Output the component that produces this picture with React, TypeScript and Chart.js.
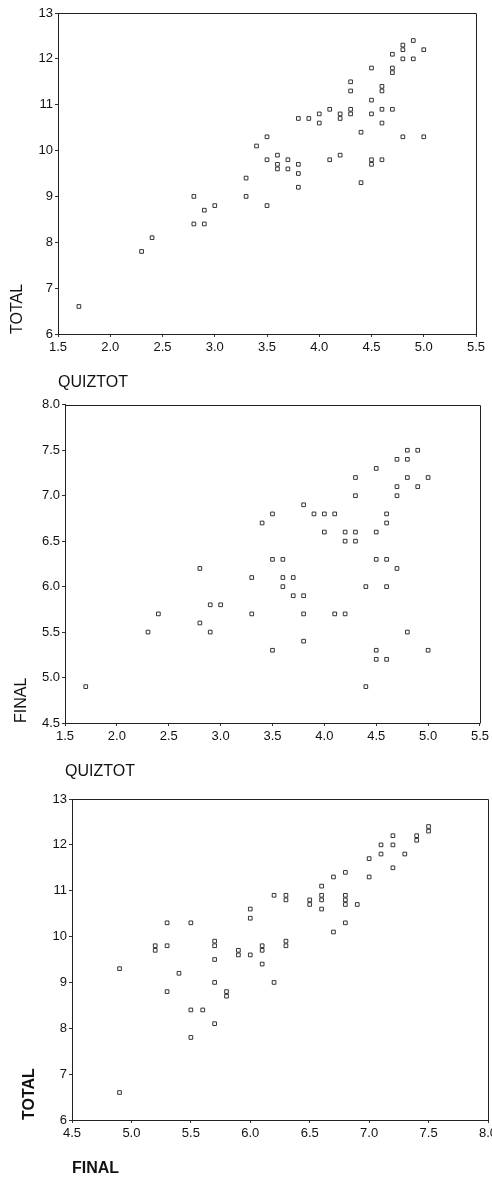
import React, { useEffect, useRef } from "react";
import { Chart, registerables } from "chart.js";

Chart.register(...registerables);

// ---- Data: panel 1 (QUIZTOT vs TOTAL)
const p1Quiztot = [1.7, 2.3, 2.4, 2.8, 2.8, 2.9, 2.9, 3.0, 3.3, 3.3, 3.4, 3.5, 3.5, 3.5, 3.6, 3.6, 3.6, 3.7, 3.7, 3.8, 3.8, 3.8, 3.8, 3.9, 4.0, 4.0, 4.1, 4.1, 4.2, 4.2, 4.2, 4.3, 4.3, 4.3, 4.3, 4.4, 4.4, 4.5, 4.5, 4.5, 4.5, 4.5, 4.6, 4.6, 4.6, 4.6, 4.6, 4.7, 4.7, 4.7, 4.7, 4.8, 4.8, 4.8, 4.8, 4.9, 4.9, 5.0, 5.0];
const p1Total = [6.6, 7.8, 8.1, 9.0, 8.4, 8.7, 8.4, 8.8, 9.0, 9.4, 10.1, 10.3, 9.8, 8.8, 9.9, 9.7, 9.6, 9.8, 9.6, 9.7, 9.5, 9.2, 10.7, 10.7, 10.8, 10.6, 10.9, 9.8, 10.8, 10.7, 9.9, 11.5, 11.3, 10.9, 10.8, 10.4, 9.3, 11.8, 11.1, 10.8, 9.8, 9.7, 11.4, 11.3, 10.9, 10.6, 9.8, 12.1, 11.8, 11.7, 10.9, 12.3, 12.2, 12.0, 10.3, 12.4, 12.0, 12.2, 10.3];

// ---- Data: panel 2 (QUIZTOT vs FINAL)
const p2Quiztot = [1.7, 2.3, 2.4, 2.8, 2.8, 2.9, 2.9, 3.0, 3.3, 3.3, 3.4, 3.5, 3.5, 3.5, 3.6, 3.6, 3.6, 3.7, 3.7, 3.8, 3.8, 3.8, 3.8, 3.9, 4.0, 4.0, 4.1, 4.1, 4.2, 4.2, 4.2, 4.3, 4.3, 4.3, 4.3, 4.4, 4.4, 4.5, 4.5, 4.5, 4.5, 4.5, 4.6, 4.6, 4.6, 4.6, 4.6, 4.7, 4.7, 4.7, 4.7, 4.8, 4.8, 4.8, 4.8, 4.9, 4.9, 5.0, 5.0];
const p2Final = [4.9, 5.5, 5.7, 6.2, 5.6, 5.8, 5.5, 5.8, 6.1, 5.7, 6.7, 6.8, 6.3, 5.3, 6.3, 6.1, 6.0, 6.1, 5.9, 6.9, 5.9, 5.7, 5.4, 6.8, 6.8, 6.6, 6.8, 5.7, 6.6, 6.5, 5.7, 7.2, 7.0, 6.6, 6.5, 6.0, 4.9, 7.3, 6.6, 6.3, 5.3, 5.2, 6.8, 6.7, 6.3, 6.0, 5.2, 7.4, 7.1, 7.0, 6.2, 7.5, 7.4, 7.2, 5.5, 7.5, 7.1, 7.2, 5.3];

// ---- Data: panel 3 (FINAL vs TOTAL)
const p3Final = [4.9, 4.9, 5.2, 5.2, 5.3, 5.3, 5.3, 5.4, 5.5, 5.5, 5.5, 5.6, 5.7, 5.7, 5.7, 5.7, 5.7, 5.8, 5.8, 5.9, 5.9, 6.0, 6.0, 6.0, 6.1, 6.1, 6.1, 6.2, 6.2, 6.3, 6.3, 6.3, 6.3, 6.5, 6.5, 6.6, 6.6, 6.6, 6.6, 6.7, 6.7, 6.8, 6.8, 6.8, 6.8, 6.8, 6.9, 7.0, 7.0, 7.1, 7.1, 7.2, 7.2, 7.2, 7.3, 7.4, 7.4, 7.5, 7.5];
const p3Total = [9.3, 6.6, 9.8, 9.7, 10.3, 9.8, 8.8, 9.2, 10.3, 8.4, 7.8, 8.4, 9.9, 9.8, 9.5, 9.0, 8.1, 8.8, 8.7, 9.7, 9.6, 10.6, 10.4, 9.6, 9.8, 9.7, 9.4, 10.9, 9.0, 10.9, 10.8, 9.9, 9.8, 10.8, 10.7, 11.1, 10.9, 10.8, 10.6, 11.3, 10.1, 11.4, 10.9, 10.8, 10.7, 10.3, 10.7, 11.7, 11.3, 12.0, 11.8, 12.2, 12.0, 11.5, 11.8, 12.2, 12.1, 12.4, 12.3];

// ---- Tick values
const quiztotTicks = [1.5, 2.0, 2.5, 3.0, 3.5, 4.0, 4.5, 5.0, 5.5];
const finalXTicks = [4.5, 5.0, 5.5, 6.0, 6.5, 7.0, 7.5, 8.0];
const totalTicks = [6, 7, 8, 9, 10, 11, 12, 13];
const finalYTicks = [4.5, 5.0, 5.5, 6.0, 6.5, 7.0, 7.5, 8.0];

const FONT = 'Arial, "Liberation Sans", Helvetica, sans-serif';

type Panel = {
  top: number;
  width: number;
  height: number;
  padTop: number;
  padRight: number;
  yWidth: number;
  xHeight: number;
  xs: number[];
  ys: number[];
  xTicks: number[];
  yTicks: number[];
  xDec: number;
  yDec: number;
  xTitle: string;
  yTitle: string;
  xTitlePad: number;
  yTitlePad: number;
  bold: boolean;
};

const panels: Panel[] = [
  {
    top: 0, width: 492, height: 395, padTop: 13, padRight: 16, yWidth: 58, xHeight: 61,
    xs: p1Quiztot, ys: p1Total, xTicks: quiztotTicks, yTicks: totalTicks, xDec: 1, yDec: 0,
    xTitle: "QUIZTOT", yTitle: "TOTAL", xTitlePad: 4, yTitlePad: 9.5, bold: false,
  },
  {
    top: 395, width: 492, height: 390, padTop: 7, padRight: 11, yWidth: 65, xHeight: 62,
    xs: p2Quiztot, ys: p2Final, xTicks: quiztotTicks, yTicks: finalYTicks, xDec: 1, yDec: 1,
    xTitle: "QUIZTOT", yTitle: "FINAL", xTitlePad: 5, yTitlePad: 14, bold: false,
  },
  {
    top: 785, width: 510, height: 392, padTop: 14, padRight: 22, yWidth: 72, xHeight: 57,
    xs: p3Final, ys: p3Total, xTicks: finalXTicks, yTicks: totalTicks, xDec: 1, yDec: 0,
    xTitle: "FINAL", yTitle: "TOTAL", xTitlePad: 0, yTitlePad: 22, bold: true,
  },
];

const framePlugin = {
  id: "frame",
  afterDatasetsDraw(chart: any) {
    const { ctx, chartArea: a } = chart;
    ctx.save();
    ctx.strokeStyle = "#222";
    ctx.lineWidth = 1;
    const l = Math.round(a.left) + 0.5;
    const t = Math.round(a.top) + 0.5;
    const r = Math.round(a.right) + 0.5;
    const b = Math.round(a.bottom) + 0.5;
    ctx.beginPath();
    ctx.moveTo(l, t);
    ctx.lineTo(r, t);
    ctx.lineTo(r, b);
    ctx.stroke();
    ctx.restore();
  },
};

function ScatterPanel({ p }: { p: Panel }) {
  const ref = useRef<HTMLCanvasElement | null>(null);
  useEffect(() => {
    if (!ref.current) return;
    const tickFont = { family: FONT, size: 13 };
    const titleFont = { family: FONT, size: 16, lineHeight: 1, weight: p.bold ? "bold" : "normal" };
    const chart = new Chart(ref.current, {
      type: "scatter",
      data: {
        datasets: [
          {
            data: p.xs.map((x, i) => ({ x, y: p.ys[i] })),
            pointStyle: "rect",
            pointRadius: 2.6,
            pointBorderWidth: 1,
            pointBorderColor: "#333",
            pointBackgroundColor: "rgba(255,255,255,0)",
          } as any,
        ],
      },
      options: {
        responsive: false,
        animation: false,
        devicePixelRatio: 1,
        events: [],
        layout: { padding: { top: p.padTop, right: p.padRight, left: 0, bottom: 0 } },
        plugins: { legend: { display: false }, tooltip: { enabled: false } },
        scales: {
          x: {
            type: "linear",
            position: "bottom",
            min: p.xTicks[0],
            max: p.xTicks[p.xTicks.length - 1],
            afterBuildTicks: (s: any) => {
              s.ticks = p.xTicks.map((v) => ({ value: v }));
            },
            afterFit: (s: any) => {
              s.height = p.xHeight;
            },
            grid: { display: true, drawOnChartArea: false, drawTicks: true, tickLength: 3, color: "#333" },
            border: { display: true, color: "#222", width: 1 },
            ticks: {
              font: tickFont,
              color: "#111",
              padding: 3,
              maxRotation: 0,
              autoSkip: false,
              callback: (v: any) => Number(v).toFixed(p.xDec),
            },
            title: {
              display: true,
              text: p.xTitle,
              align: "start",
              color: "#111",
              font: titleFont as any,
              padding: { top: 0, bottom: p.xTitlePad },
            },
          },
          y: {
            type: "linear",
            min: p.yTicks[0],
            max: p.yTicks[p.yTicks.length - 1],
            afterBuildTicks: (s: any) => {
              s.ticks = p.yTicks.map((v) => ({ value: v }));
            },
            afterFit: (s: any) => {
              s.width = p.yWidth;
            },
            grid: { display: true, drawOnChartArea: false, drawTicks: true, tickLength: 3, color: "#333" },
            border: { display: true, color: "#222", width: 1 },
            ticks: {
              font: tickFont,
              color: "#111",
              padding: 2,
              autoSkip: false,
              callback: (v: any) => Number(v).toFixed(p.yDec),
            },
            title: {
              display: true,
              text: p.yTitle,
              align: "start",
              color: "#111",
              font: titleFont as any,
              padding: { top: p.yTitlePad, bottom: 0 },
            },
          },
        },
      } as any,
      plugins: [framePlugin],
    });
    return () => chart.destroy();
  }, [p]);
  return (
    <canvas
      ref={ref}
      width={p.width}
      height={p.height}
      style={{ position: "absolute", left: 0, top: p.top, width: p.width, height: p.height, display: "block" }}
    />
  );
}

export default function App() {
  return (
    <div
      style={{
        position: "absolute",
        left: 0,
        top: 0,
        width: 492,
        height: 1177,
        overflow: "hidden",
        background: "#fff",
      }}
    >
      {panels.map((p, i) => (
        <ScatterPanel key={i} p={p} />
      ))}
    </div>
  );
}
